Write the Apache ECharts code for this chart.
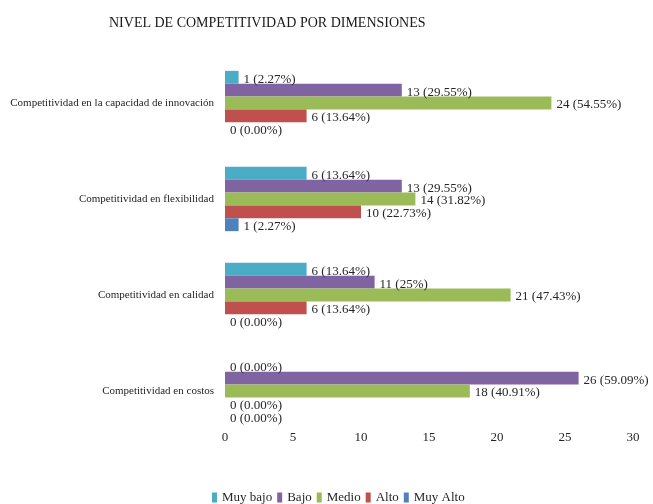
<!DOCTYPE html>
<html>
<head>
<meta charset="utf-8">
<script src="https://cdn.jsdelivr.net/npm/echarts@6/dist/echarts.min.js"></script>
<style>
  html, body { margin: 0; padding: 0; background: #fff; }
  #chart { width: 653px; height: 504px; }
</style>
</head>
<body>
<div id="chart"></div>
<script>
// categorias de arriba hacia abajo
var categories = [
  'Competitividad en la capacidad de innovación',
  'Competitividad en flexibilidad',
  'Competitividad en calidad',
  'Competitividad en costos'
];
var levels = ['Muy bajo', 'Bajo', 'Medio', 'Alto', 'Muy Alto'];

var muyBajo = [1, 6, 6, 0];
var muyBajoPct = ['2.27%', '13.64%', '13.64%', '0.00%'];
var bajo = [13, 13, 11, 26];
var bajoPct = ['29.55%', '29.55%', '25%', '59.09%'];
var medio = [24, 14, 21, 18];
var medioPct = ['54.55%', '31.82%', '47.43%', '40.91%'];
var alto = [6, 10, 6, 0];
var altoPct = ['13.64%', '22.73%', '13.64%', '0.00%'];
var muyAlto = [0, 1, 0, 0];
var muyAltoPct = ['0.00%', '2.27%', '0.00%', '0.00%'];

var xTicks = { min: 0, max: 30, interval: 5 };

var colors = ['#4BACC6', '#8064A2', '#9BBB59', '#C0504D', '#4F81BD'];
var font = '"Liberation Serif", "DejaVu Serif", serif';

function makeSeries(name, values, pcts) {
  return {
    name: name,
    type: 'bar',
    barGap: '0%',
    barCategoryGap: '33%',
    data: values,
    label: {
      show: true,
      position: 'right',
      distance: 5,
      offset: [0, 2],
      color: '#262626',
      fontFamily: font,
      fontSize: 13,
      formatter: function (p) {
        return p.value + ' (' + pcts[p.dataIndex] + ')';
      }
    }
  };
}

var chart = echarts.init(document.getElementById('chart'));
chart.setOption({
  color: colors,
  animation: false,
  title: {
    text: 'NIVEL DE COMPETITIVIDAD POR DIMENSIONES',
    left: 104,
    top: 11,
    textStyle: { fontFamily: font, fontSize: 14, fontWeight: 'normal', color: '#1a1a1a' }
  },
  legend: {
    left: 207,
    top: 486,
    icon: 'rect',
    itemWidth: 5,
    itemHeight: 10,
    itemGap: 5,
    data: levels,
    textStyle: { fontFamily: font, fontSize: 13, color: '#262626' }
  },
  grid: { left: 225, top: 55, width: 408, height: 384 },
  xAxis: {
    type: 'value',
    min: xTicks.min,
    max: xTicks.max,
    interval: xTicks.interval,
    axisLine: { show: false },
    axisTick: { show: false },
    splitLine: { show: false },
    axisLabel: { margin: -8, color: '#262626', fontFamily: font, fontSize: 13 }
  },
  yAxis: {
    type: 'category',
    inverse: true,
    data: categories,
    axisLine: { show: false },
    axisTick: { show: false },
    axisLabel: { margin: 11, color: '#1f1f1f', fontFamily: font, fontSize: 11 }
  },
  series: [
    makeSeries(levels[0], muyBajo, muyBajoPct),
    makeSeries(levels[1], bajo, bajoPct),
    makeSeries(levels[2], medio, medioPct),
    makeSeries(levels[3], alto, altoPct),
    makeSeries(levels[4], muyAlto, muyAltoPct)
  ]
});
</script>
</body>
</html>
